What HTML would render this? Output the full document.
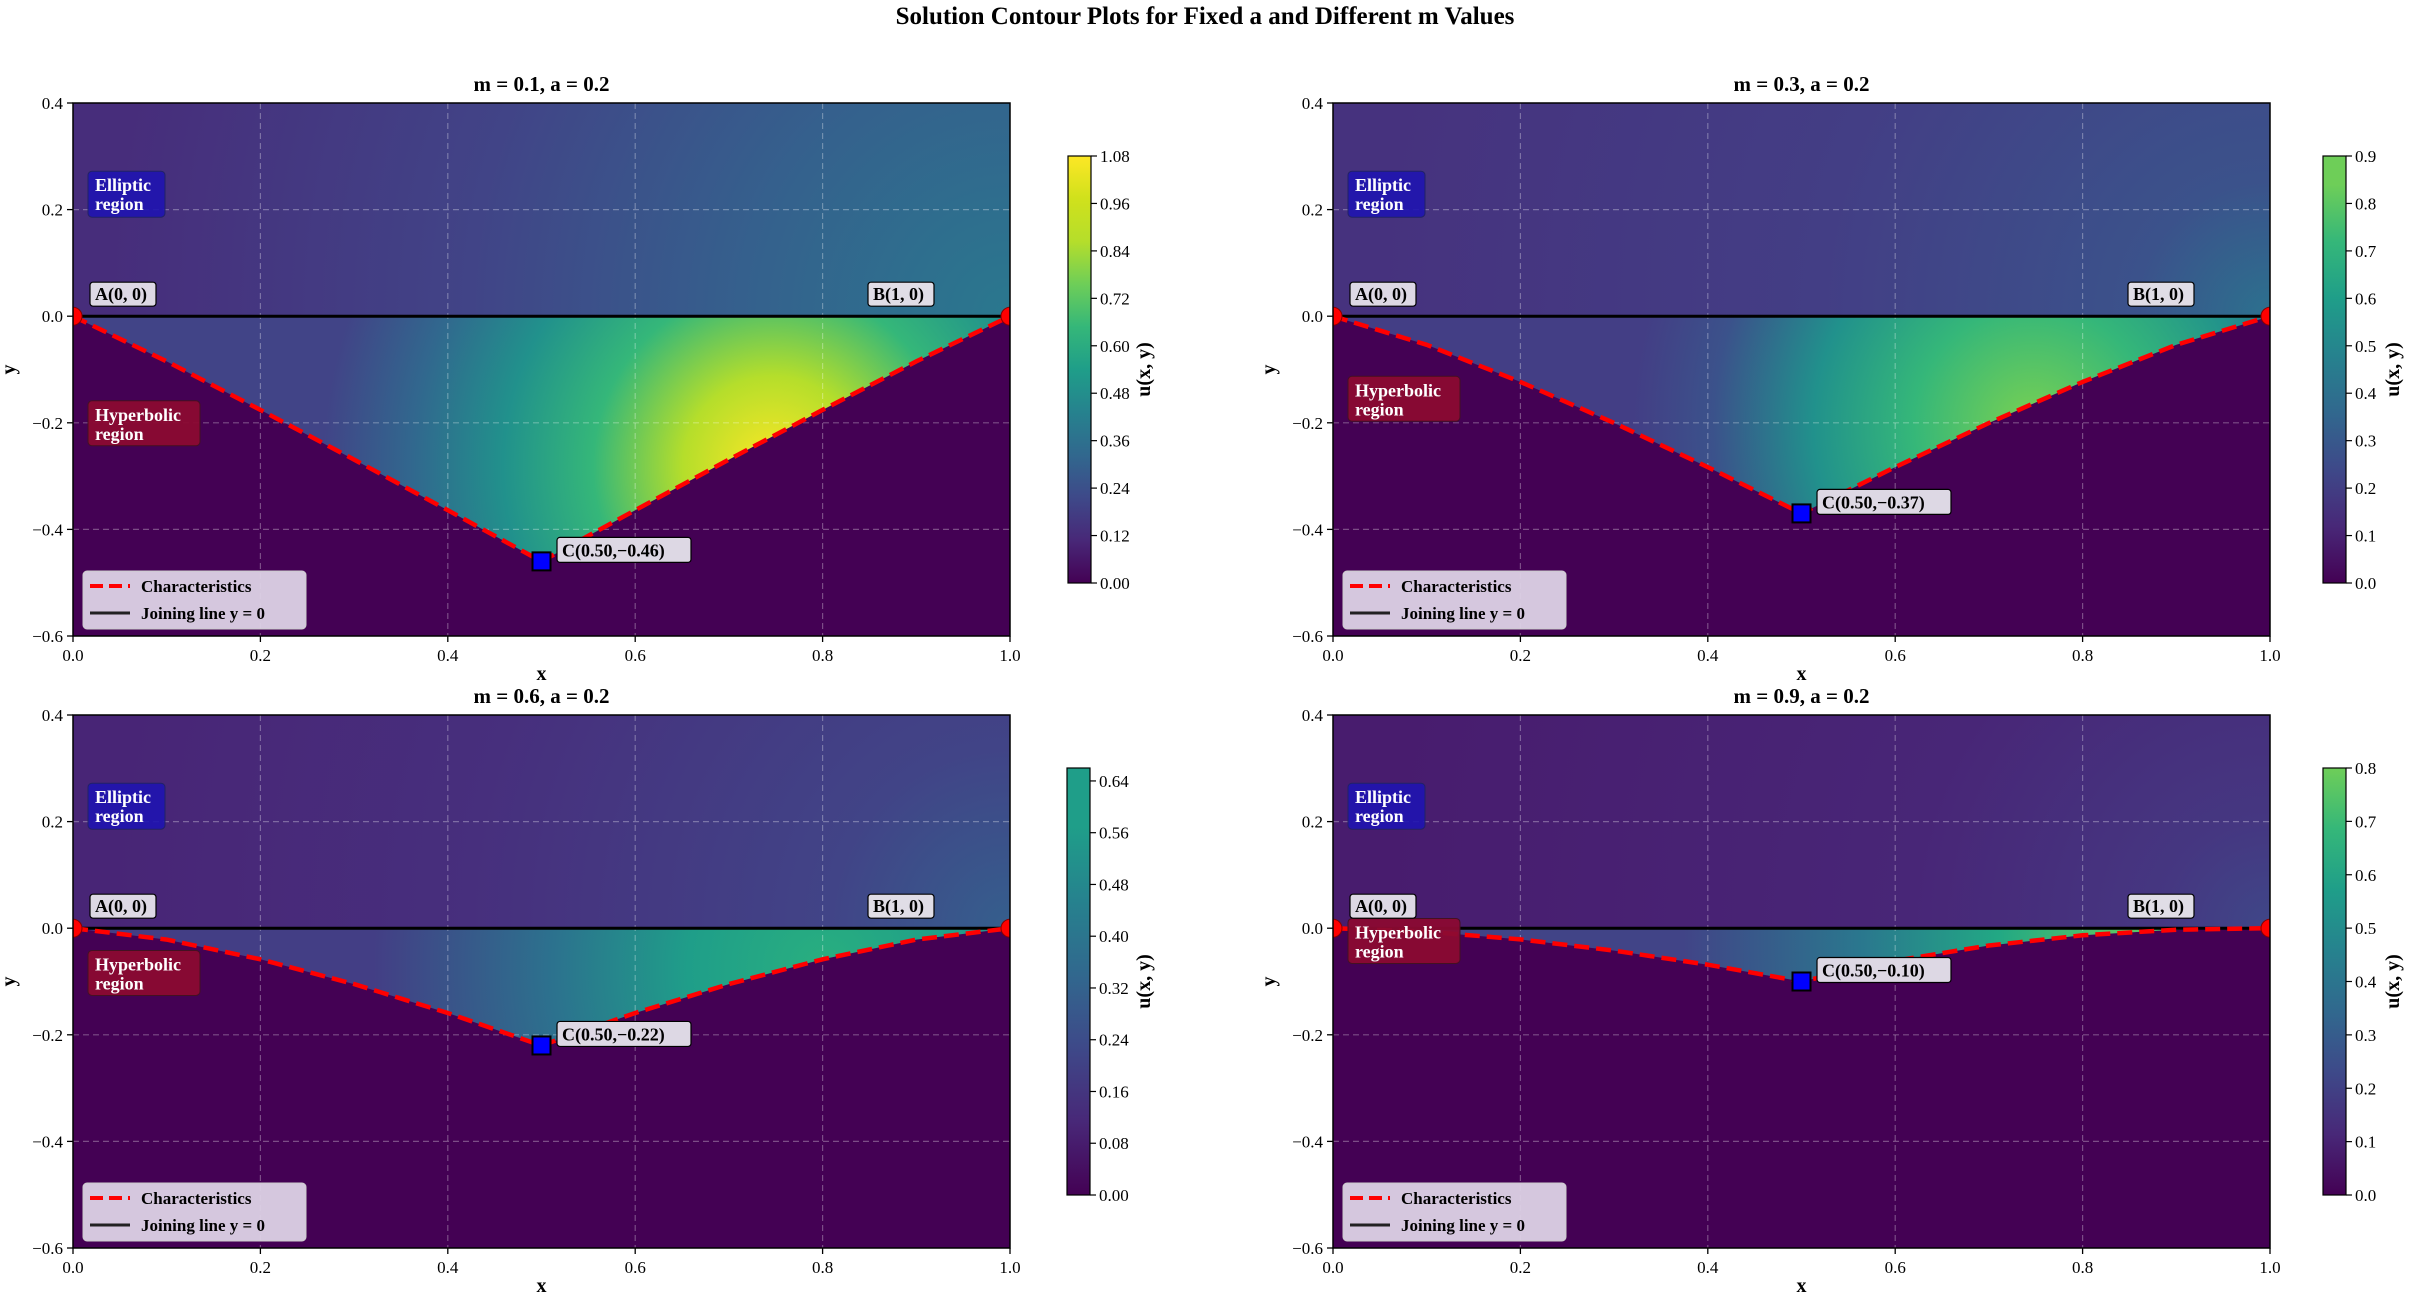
<!DOCTYPE html>
<html><head><meta charset="utf-8"><style>
html,body{margin:0;padding:0;background:#fff;}
svg{display:block;font-family:"Liberation Serif",serif;}
</style></head><body>
<svg id="s" width="2411" height="1302" viewBox="0 0 2411 1302" xmlns="http://www.w3.org/2000/svg"></svg>
<script>
const W=937,H=533;
const vir=[[0,'#440154'],[.1,'#482878'],[.2,'#3e4989'],[.3,'#31688e'],[.4,'#26828e'],[.5,'#1f9e89'],[.6,'#35b779'],[.7,'#6ece58'],[.8,'#b5de2b'],[.9,'#d0e11c'],[1,'#fde725']];
const P=[
 {L:73,T:103,m:'0.1',yc:.46,pl:1.05,pr:1.05,cl:'0.50,−0.46',hy:-0.2,
  up:[[0,'#2a788e'],[.3,'#35608d'],[.6,'#414487'],[1,'#472d7b']],
  tri:[[0,'#fde725'],[.2,'#b5de2b'],[.4,'#35b779'],[.6,'#21918c'],[.8,'#31688e'],[1,'#414487']],tg:[700,150,450],
  cb:{x:1068,max:1.08,step:.12,n:10,dec:2,top:1},lx:1150},
 {L:1333,T:103,m:'0.3',yc:.37,pl:1.2,pr:1.2,cl:'0.50,−0.37',hy:-0.154,
  up:[[0,'#2c718e'],[.15,'#3b528b'],[.5,'#433e85'],[1,'#46327e']],
  tri:[[0,'#7ad151'],[.3,'#35b779'],[.55,'#21918c'],[.8,'#3b528b'],[1,'#433e85']],tg:[700,110,400],
  cb:{x:2323,max:.9,step:.1,n:10,dec:1,top:.75},lx:2399},
 {L:73,T:715,m:'0.6',yc:.22,pl:1.45,pr:1.45,cl:'0.50,−0.22',hy:-0.083,
  up:[[0,'#355f8d'],[.2,'#414487'],[.6,'#472f7d'],[1,'#482576']],
  tri:[[0,'#29af7f'],[.3,'#1f9e89'],[.6,'#2c728e'],[1,'#433e85']],tg:[750,40,450],
  cb:{x:1067,max:.66,step:.08,n:9,dec:2,top:.58},lx:1150},
 {L:1333,T:715,m:'0.9',yc:.10,pl:1.7,pr:2.2,cl:'0.50,−0.10',hy:-0.023,
  up:[[0,'#3f4788'],[.12,'#453781'],[.4,'#482677'],[1,'#481c6e']],
  tri:[[0,'#5ec962'],[.3,'#22a884'],[.6,'#2a788e'],[1,'#414487']],tg:[800,15,450],
  cb:{x:2323,max:.8,step:.1,n:9,dec:1,top:.7},lx:2399}
];
function stops(a){return a.map(s=>`<stop offset="${s[0]}" stop-color="${s[1]}"/>`).join('');}
function vstops(top){let r=[];for(const s of vir){if(s[0]<=top)r.push([s[0]/top,s[1]]);}
 let i=vir.findIndex(s=>s[0]>top);if(i>0){r.push([1,vir[i-1][1]]);}return r;}
let o=`<text x="1205" y="24" font-size="25" font-weight="bold" text-anchor="middle">Solution Contour Plots for Fixed a and Different m Values</text>`;
let defs='';
P.forEach((p,k)=>{
 const y0=p.T+0.4*H;
 const tl=[0,.2,.4,.6,.8,1];
 const yc=p.yc*H;
 let L=tl.map(t=>[t*468.5,yc*Math.pow(t,p.pl)]);
 let R=tl.slice().reverse().map(t=>[937-t*468.5,yc*Math.pow(t,p.pr)]);
 const pts=L.concat(R.slice(1));
 const d='M'+pts.map(q=>q[0].toFixed(1)+','+q[1].toFixed(1)).join(' L');
 defs+=`<clipPath id="c${k}"><rect x="0" y="${-0.4*H}" width="${W}" height="${H}"/></clipPath>
 <radialGradient id="u${k}" gradientUnits="userSpaceOnUse" cx="937" cy="0" r="900">${stops(p.up)}</radialGradient>
 <radialGradient id="t${k}" gradientUnits="userSpaceOnUse" cx="${p.tg[0]}" cy="${p.tg[1]}" r="${p.tg[2]}">${stops(p.tri)}</radialGradient>
 <linearGradient id="v${k}" x1="0" y1="1" x2="0" y2="0">${stops(vstops(p.cb.top))}</linearGradient>`;
 let g=`<g transform="translate(${p.L},${y0})">`;
 g+=`<g clip-path="url(#c${k})">`;
 g+=`<rect x="0" y="${-0.4*H}" width="${W}" height="${0.4*H}" fill="url(#u${k})"/>`;
 g+=`<rect x="0" y="0" width="${W}" height="${0.6*H}" fill="#440154"/>`;
 g+=`<path d="${d} Z" fill="url(#t${k})"/>`;
 for(let i=1;i<5;i++){g+=`<line x1="${i*W/5}" y1="${-0.4*H}" x2="${i*W/5}" y2="${0.6*H}" stroke="#fff" stroke-opacity=".3" stroke-width="1.2" stroke-dasharray="6,4"/>`;}
 for(let v of [.2,0,-.2,-.4]){g+=`<line x1="0" y1="${-v*H}" x2="${W}" y2="${-v*H}" stroke="#fff" stroke-opacity=".3" stroke-width="1.2" stroke-dasharray="6,4"/>`;}
 g+=`<line x1="0" y1="0" x2="${W}" y2="0" stroke="#000" stroke-width="3"/>`;
 g+=`<path d="${d}" fill="none" stroke="#f00" stroke-width="4.5" stroke-dasharray="15,7"/>`;
 g+=`<circle cx="0" cy="0" r="9" fill="#f00" stroke="#800" stroke-width="1"/><circle cx="${W}" cy="0" r="9" fill="#f00" stroke="#800" stroke-width="1"/>`;
 g+=`</g>`;
 g+=`<rect x="0" y="${-0.4*H}" width="${W}" height="${H}" fill="none" stroke="#000" stroke-width="1.5"/>`;
 g+=`<rect x="${468.5-9}" y="${yc-9}" width="18" height="18" fill="#00f" stroke="#000" stroke-width="2"/>`;
 [.4,.2,0,-.2,-.4,-.6].forEach(v=>{const y=-v*H;g+=`<line x1="-6" y1="${y}" x2="0" y2="${y}" stroke="#000" stroke-width="1.3"/><text x="-10" y="${y+6}" font-size="17" text-anchor="end">${v<0?'−':''}${Math.abs(v).toFixed(1)}</text>`;});
 [0,.2,.4,.6,.8,1].forEach(v=>{const x=v*W;g+=`<line x1="${x}" y1="${0.6*H}" x2="${x}" y2="${0.6*H+6}" stroke="#000" stroke-width="1.3"/><text x="${x}" y="${0.6*H+25}" font-size="17" text-anchor="middle">${v.toFixed(1)}</text>`;});
 g+=`<text x="${W/2}" y="${0.6*H+44}" font-size="20" font-weight="bold" text-anchor="middle">x</text>`;
 g+=`<text transform="translate(-58,${0.1*H}) rotate(-90)" font-size="20" font-weight="bold" text-anchor="middle">y</text>`;
 g+=`<text x="${W/2}" y="${-0.4*H-12}" font-size="21" font-weight="bold" text-anchor="middle">m = ${p.m},  a = 0.2</text>`;
 g+=`<rect x="15" y="-145" width="77" height="46" rx="4" fill="#1f14b0" fill-opacity=".9" stroke="#222266" stroke-width="1"/>`;
 g+=`<text x="22" y="-125" font-size="18" font-weight="bold" fill="#fff">Elliptic</text><text x="22" y="-106" font-size="18" font-weight="bold" fill="#fff">region</text>`;
 const hy=-p.hy*H;
 g+=`<rect x="15" y="${hy-22}" width="112" height="45" rx="4" fill="#8b0a32" fill-opacity=".95" stroke="#441122" stroke-width="1"/>`;
 g+=`<text x="22" y="${hy-2}" font-size="18" font-weight="bold" fill="#fff">Hyperbolic</text><text x="22" y="${hy+17}" font-size="18" font-weight="bold" fill="#fff">region</text>`;
 g+=`<rect x="17" y="-34" width="66" height="24" rx="3" fill="#ddd8e4" stroke="#000" stroke-width="1.2"/><text x="22" y="-16" font-size="18" font-weight="bold">A(0, 0)</text>`;
 g+=`<rect x="795" y="-34" width="66" height="24" rx="3" fill="#e0dde6" stroke="#000" stroke-width="1.2"/><text x="800" y="-16" font-size="18" font-weight="bold">B(1, 0)</text>`;
 g+=`<rect x="484" y="${yc-24}" width="134" height="25" rx="3" fill="#ddd8e4" stroke="#000" stroke-width="1.2"/><text x="489" y="${yc-5}" font-size="18" font-weight="bold">C(${p.cl})</text>`;
 const ly=0.6*H-65;
 g+=`<rect x="10" y="${ly}" width="223" height="58" rx="4" fill="#ddd2e6" fill-opacity=".95" stroke="#ccc" stroke-width="1"/>`;
 g+=`<line x1="17" y1="${ly+15}" x2="57" y2="${ly+15}" stroke="#f00" stroke-width="4" stroke-dasharray="13,6"/><text x="68" y="${ly+21}" font-size="17" font-weight="bold">Characteristics</text>`;
 g+=`<line x1="17" y1="${ly+42}" x2="57" y2="${ly+42}" stroke="#222" stroke-width="3"/><text x="68" y="${ly+48}" font-size="17" font-weight="bold">Joining line y = 0</text>`;
 g+=`</g>`;
 const cb=p.cb, cT=p.T+53, cH=427, cw=23;
 g+=`<rect x="${cb.x}" y="${cT}" width="${cw}" height="${cH}" fill="url(#v${k})" stroke="#000" stroke-width="1.2"/>`;
 for(let i=0;i<cb.n;i++){const v=i*cb.step;const y=cT+cH-cH*v/cb.max;
  g+=`<line x1="${cb.x+cw}" y1="${y}" x2="${cb.x+cw+6}" y2="${y}" stroke="#000" stroke-width="1.2"/><text x="${cb.x+cw+9}" y="${y+6}" font-size="17">${v.toFixed(cb.dec)}</text>`;}
 g+=`<text transform="translate(${p.lx},${cT+cH/2}) rotate(-90)" font-size="20" font-weight="bold" text-anchor="middle">u(x, y)</text>`;
 o+=g;
});
document.getElementById('s').innerHTML='<defs>'+defs+'</defs>'+o;
</script>
</body></html>
